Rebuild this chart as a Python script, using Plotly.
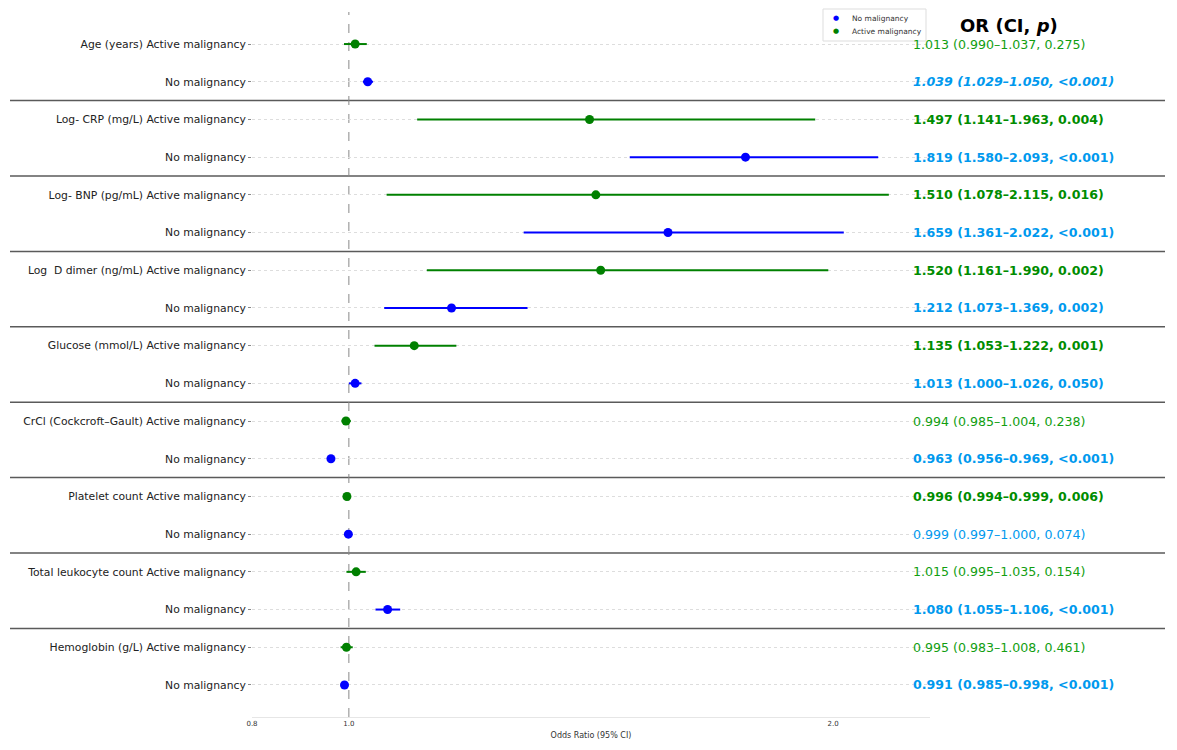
import plotly.graph_objects as go

variables = ["Age (years)", "Log- CRP (mg/L)", "Log- BNP (pg/mL)", "Log  D dimer (ng/mL)",
             "Glucose (mmol/L)", "CrCl (Cockcroft–Gault)", "Platelet count",
             "Total leukocyte count", "Hemoglobin (g/L)"]

act_or = [1.013, 1.497, 1.510, 1.520, 1.135, 0.994, 0.996, 1.015, 0.995]
act_lo = [0.990, 1.141, 1.078, 1.161, 1.053, 0.985, 0.994, 0.995, 0.983]
act_hi = [1.037, 1.963, 2.115, 1.990, 1.222, 1.004, 0.999, 1.035, 1.008]
act_p = ["0.275", "0.004", "0.016", "0.002", "0.001", "0.238", "0.006", "0.154", "0.461"]
act_bold = [False, True, True, True, True, False, True, False, False]

no_or = [1.039, 1.819, 1.659, 1.212, 1.013, 0.963, 0.999, 1.080, 0.991]
no_lo = [1.029, 1.580, 1.361, 1.073, 1.000, 0.956, 0.997, 1.055, 0.985]
no_hi = [1.050, 2.093, 2.022, 1.369, 1.026, 0.969, 1.000, 1.106, 0.998]
no_p = ["<0.001", "<0.001", "<0.001", "0.002", "0.050", "<0.001", "0.074", "<0.001", "<0.001"]
no_bold = [True, True, True, True, True, True, False, True, True]
no_italic = [True, False, False, False, False, False, False, False, False]

x_ticks = [0.8, 1.0, 2.0]
x_tick_labels = ["0.8", "1.0", "2.0"]

GREEN = "#008000"
BLUE = "#0000FF"
GREEN_TXT = "#119E11"
BLUE_TXT = "#0099EE"
FONT = "DejaVu Sans"

# plot-area pixel geometry (for converting pixel positions of decorations)
L, R, T, B = 252, 930, 12, 717
def px(xp):
    return (xp - L) / (R - L)
def py(yp):
    return 1 - (yp - T) / (B - T)

n = len(variables)
y_act = [-2 * i for i in range(n)]
y_no = [-2 * i - 1 for i in range(n)]

fig = go.Figure()

fig.add_trace(go.Scatter(
    x=act_or, y=y_act, mode="markers", name="Active malignancy", showlegend=False,
    marker=dict(color=GREEN, size=9),
    error_x=dict(type="data", symmetric=False,
                 array=[h - o for h, o in zip(act_hi, act_or)],
                 arrayminus=[o - l for o, l in zip(act_or, act_lo)],
                 color=GREEN, thickness=2, width=0)))
fig.add_trace(go.Scatter(
    x=no_or, y=y_no, mode="markers", name="No malignancy", showlegend=False,
    marker=dict(color=BLUE, size=9),
    error_x=dict(type="data", symmetric=False,
                 array=[h - o for h, o in zip(no_hi, no_or)],
                 arrayminus=[o - l for o, l in zip(no_or, no_lo)],
                 color=BLUE, thickness=2, width=0)))

tickvals, ticktext = [], []
for i, v in enumerate(variables):
    tickvals += [y_act[i], y_no[i]]
    ticktext += [f"{v} Active malignancy", "No malignancy"]

# right-hand text
x_txt = px(911)
def fmt(o, l, h, p, bold, italic=False):
    s = f"{o:.3f} ({l:.3f}–{h:.3f}, {p})"
    s = s.replace("<", "&lt;")
    if italic:
        s = f"<i>{s}</i>"
    if bold:
        s = f"<b>{s}</b>"
    return s

for i in range(n):
    fig.add_annotation(x=x_txt, xref="paper", y=y_act[i], yref="y", xanchor="left",
                       text=fmt(act_or[i], act_lo[i], act_hi[i], act_p[i], act_bold[i]),
                       showarrow=False,
                       font=dict(family=FONT, size=12.6,
                                 color="#008C00" if act_bold[i] else GREEN_TXT))
    fig.add_annotation(x=x_txt, xref="paper", y=y_no[i], yref="y", xanchor="left",
                       text=fmt(no_or[i], no_lo[i], no_hi[i], no_p[i], no_bold[i], no_italic[i]),
                       showarrow=False, font=dict(family=FONT, size=12.6, color=BLUE_TXT))

fig.add_annotation(x=px(1009), xref="paper", y=py(25), yref="paper",
                   xanchor="center", yanchor="middle",
                   text="<b>OR (CI, <i>p</i>)</b>", showarrow=False,
                   font=dict(family=FONT, size=18, color="black"))

# manual compact legend
fig.add_shape(type="rect", xref="paper", yref="paper",
              x0=px(823), x1=px(926), y0=py(41), y1=py(9),
              line=dict(color="#dddddd", width=1), fillcolor="rgba(255,255,255,0.9)")
for yy, name, col in [(18, "No malignancy", BLUE), (31, "Active malignancy", GREEN)]:
    fig.add_annotation(x=px(836), xref="paper", y=py(yy), yref="paper",
                       xanchor="center", yanchor="middle", text="●", showarrow=False,
                       font=dict(size=7, color=col))
    fig.add_annotation(x=px(850), xref="paper", y=py(yy), yref="paper",
                       xanchor="left", yanchor="middle", text=name, showarrow=False,
                       font=dict(family=FONT, size=7.5, color="#333333"))

# separators
for i in range(n - 1):
    yy = y_no[i] - 0.5
    fig.add_shape(type="line", xref="paper", yref="y", x0=px(10), x1=px(1165), y0=yy, y1=yy,
                  line=dict(color="#5a5a5a", width=1.5), layer="below")

# reference line at 1.0
fig.add_shape(type="line", xref="x", yref="paper", x0=1.0, x1=1.0, y0=0, y1=1,
              line=dict(color="#888888", width=1, dash="dash"), layer="below")

fig.update_layout(
    width=1177, height=750,
    margin=dict(l=L, r=1177 - R, t=T, b=750 - B),
    plot_bgcolor="white", paper_bgcolor="white",
    font=dict(family=FONT, color="#222222"),
    showlegend=False,
    xaxis=dict(range=[0.8, 2.2], tickvals=x_ticks, ticktext=x_tick_labels,
               showgrid=False, zeroline=False, showline=True, linecolor="#e6e6e6",
               ticks="", tickfont=dict(size=7, color="#333333"),
               title=dict(text="Odds Ratio (95% CI)", font=dict(size=8, color="#333333"),
                          standoff=4)),
    yaxis=dict(range=[-17.85, 0.85], tickvals=tickvals, ticktext=ticktext,
               showgrid=True, gridcolor="#dddddd", griddash="dot", gridwidth=1,
               zeroline=False, showline=False, ticks="outside", ticklen=3,
               tickcolor="#888888", tickfont=dict(size=10.8, color="#222222")),
)

fig.write_html("out.html")
